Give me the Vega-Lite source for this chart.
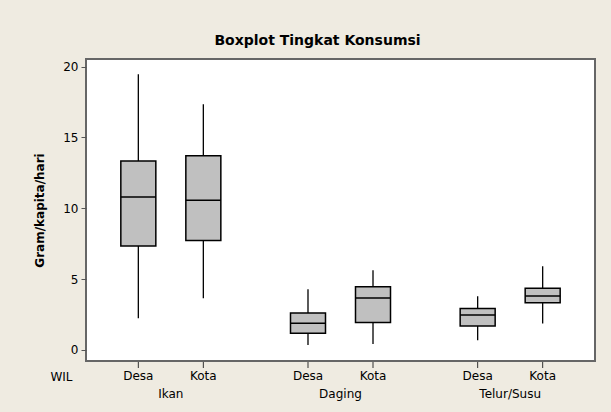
{
  "$schema": "https://vega.github.io/schema/vega-lite/v6.json",
  "width": 509,
  "height": 302,
  "autosize": {"type": "none"},
  "padding": {"left": 86, "top": 59, "right": 16, "bottom": 51},
  "background": "#efebe1",
  "title": {
    "text": "Boxplot Tingkat Konsumsi",
    "font": "DejaVu Sans",
    "fontSize": 14,
    "fontWeight": "bold",
    "color": "#000000",
    "anchor": "middle",
    "frame": "group",
    "dx": -23,
    "offset": 11
  },
  "config": {
    "font": "DejaVu Sans",
    "view": {"fill": "#ffffff", "stroke": "#666666", "strokeWidth": 2}
  },
  "data": {
    "values": [
      {"kelompok": "Ikan", "WIL": "Desa", "min": 2.24, "q1": 7.34, "median": 10.8, "q3": 13.34, "max": 19.46},
      {"kelompok": "Ikan", "WIL": "Kota", "min": 3.65, "q1": 7.72, "median": 10.56, "q3": 13.71, "max": 17.34},
      {"kelompok": "Daging", "WIL": "Desa", "min": 0.35, "q1": 1.18, "median": 1.88, "q3": 2.61, "max": 4.28},
      {"kelompok": "Daging", "WIL": "Kota", "min": 0.42, "q1": 1.93, "median": 3.67, "q3": 4.47, "max": 5.62},
      {"kelompok": "Telur/Susu", "WIL": "Desa", "min": 0.68, "q1": 1.69, "median": 2.47, "q3": 2.92, "max": 3.79},
      {"kelompok": "Telur/Susu", "WIL": "Kota", "min": 1.86, "q1": 3.34, "median": 3.81, "q3": 4.36, "max": 5.91}
    ]
  },
  "encoding": {
    "x": {
      "field": "kelompok",
      "type": "nominal",
      "sort": ["Ikan", "Daging", "Telur/Susu"],
      "scale": {"paddingInner": 0, "paddingOuter": 0},
      "axis": {
        "title": "WIL",
        "titleFont": "DejaVu Sans",
        "titleFontSize": 12,
        "titleFontWeight": "normal",
        "titleColor": "#000000",
        "titleX": -25,
        "titleY": 15,
        "titleAlign": "center",
        "titleBaseline": "middle",
        "titleAngle": 0,
        "labelAngle": 0,
        "labelFontSize": 12,
        "labelColor": "#000000",
        "labelPadding": 27,
        "ticks": false,
        "tickSize": 0,
        "domain": false,
        "grid": false
      }
    },
    "xOffset": {
      "field": "WIL",
      "type": "nominal",
      "sort": ["Desa", "Kota"],
      "scale": {"paddingInner": 0, "paddingOuter": 0.305}
    }
  },
  "layer": [
    {
      "mark": {"type": "rule", "color": "#000000", "strokeWidth": 1.3},
      "encoding": {
        "y": {
          "field": "min",
          "type": "quantitative",
          "scale": {"domain": [-0.78, 20.54], "nice": false, "zero": false},
          "axis": {
            "title": "Gram/kapita/hari",
            "titleFontSize": 12,
            "titleFontWeight": "bold",
            "titleColor": "#000000",
            "titlePadding": 16,
            "values": [0, 5, 10, 15, 20],
            "labelFontSize": 12,
            "labelColor": "#000000",
            "labelPadding": 3,
            "tickSize": 5,
            "tickColor": "#555555",
            "domain": false,
            "grid": false
          }
        },
        "y2": {"field": "max"}
      }
    },
    {
      "mark": {"type": "bar", "width": 35, "fill": "#c0c0c0", "stroke": "#000000", "strokeWidth": 1.5},
      "encoding": {
        "y": {"field": "q1", "type": "quantitative"},
        "y2": {"field": "q3"}
      }
    },
    {
      "mark": {"type": "tick", "size": 35, "thickness": 1.5, "color": "#000000", "opacity": 1},
      "encoding": {
        "y": {"field": "median", "type": "quantitative"}
      }
    },
    {
      "mark": {"type": "tick", "orient": "vertical", "size": 6, "thickness": 1, "color": "#333333", "opacity": 1, "yOffset": 4},
      "encoding": {
        "y": {"value": "height"}
      }
    },
    {
      "mark": {"type": "text", "fontSize": 12, "color": "#000000", "baseline": "middle", "dy": 15},
      "encoding": {
        "y": {"value": "height"},
        "text": {"field": "WIL"}
      }
    }
  ]
}
